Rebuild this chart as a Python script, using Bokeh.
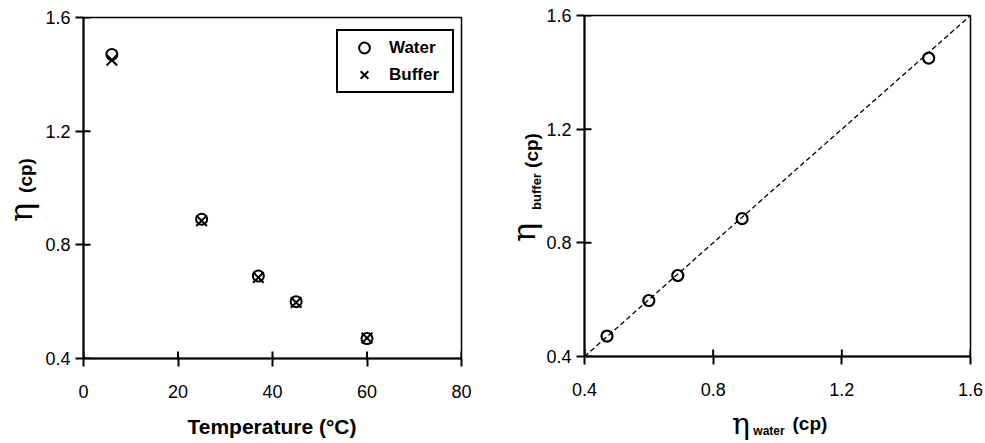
import math
from bokeh.plotting import figure
from bokeh.layouts import row, column
from bokeh.models import Legend, LegendItem, FixedTicker, Range1d
from bokeh.core.properties import value
from bokeh.embed import file_html
from bokeh.resources import INLINE

temperature = [6, 25, 37, 45, 60]
eta_water = [1.47, 0.89, 0.69, 0.60, 0.47]
eta_buffer = [1.45, 0.885, 0.685, 0.597, 0.472]

x_ticks_left = [0, 20, 40, 60, 80]
y_ticks = [0.4, 0.8, 1.2, 1.6]
x_ticks_right = [0.4, 0.8, 1.2, 1.6]
identity_line = [0.4, 1.6]

FONT = "Liberation Sans"
SERIF = "DejaVu Serif"


def style(p, xt, yt, xr, yr):
    p.outline_line_color = "black"
    p.outline_line_width = 1.5
    p.xgrid.visible = False
    p.ygrid.visible = False
    for ax in (p.xaxis[0], p.yaxis[0]):
        ax.axis_line_width = 2
        ax.axis_line_color = "black"
        ax.major_tick_line_width = 2
        ax.major_tick_out = 8
        ax.major_tick_in = 0
        ax.minor_tick_line_color = None
        ax.major_label_text_font = FONT
        ax.major_label_text_font_size = "18px"
        ax.major_label_text_color = "black"
    p.xaxis[0].ticker = FixedTicker(ticks=xt)
    p.yaxis[0].ticker = FixedTicker(ticks=yt)
    p.yaxis[0].major_label_standoff = 5
    p.xaxis[0].major_label_standoff = 18
    # inward halves of the crossing tick marks
    p.scatter(xt, [yr[0]] * len(xt), marker="dash", angle=math.pi / 2, size=14,
              line_color="black", line_width=2)
    p.scatter([xr[0]] * len(yt), yt, marker="dash", size=14,
              line_color="black", line_width=2)


def label_fig(w, h, xr=None):
    xr = xr if xr is not None else (0, w)
    f = figure(width=w, height=h, x_range=Range1d(*xr), y_range=Range1d(0, h),
               output_backend="svg", toolbar_location=None, min_border=0,
               x_axis_location=None, y_axis_location=None)
    f.xgrid.visible = False
    f.ygrid.visible = False
    f.outline_line_color = None
    return f


def txt(f, x, y, s, font, size, bold=False, angle=0.0):
    f.text(x=[x], y=[y], text=[s], angle=angle, text_font=value(font),
           text_font_size=size, text_font_style="bold" if bold else "normal",
           text_align="center", text_baseline="middle", text_color="black")


# ---------- left plot ----------
xr1, yr1 = (0, 80), (0.4, 1.6)
p1 = figure(width=448, height=405, output_backend="svg", toolbar_location=None,
            x_range=Range1d(*xr1), y_range=Range1d(*yr1),
            min_border_left=40, min_border_right=29, min_border_top=17, min_border_bottom=47)
style(p1, x_ticks_left, y_ticks, xr1, yr1)

rw = p1.scatter(temperature, eta_water, marker="circle", size=11, fill_color=None,
                line_color="black", line_width=2)
rb = p1.scatter(temperature, eta_buffer, marker="x", size=15,
                line_color="black", line_width=2)

legend = Legend(items=[LegendItem(label="Water", renderers=[rw]),
                       LegendItem(label="Buffer", renderers=[rb])],
                location=(253, 265), border_line_color="black", border_line_width=2,
                border_line_alpha=1, label_text_color="black",
                label_text_font=FONT, label_text_font_size="17px", label_text_font_style="bold",
                glyph_width=46, glyph_height=27, label_height=27, label_width=60, spacing=0,
                padding=3, margin=0, label_standoff=2, background_fill_alpha=1)
p1.add_layout(legend, "center")

# label strip below: its frame lines up with the plot frame (page x 82..461)
xl1 = label_fig(448, 38, xr=(82, 461))
txt(xl1, 271, 17, "Temperature (°C)", FONT, "21px", bold=True)

yl1 = label_fig(42, 443)
txt(yl1, 20, 231, "η", SERIF, "32px", angle=math.pi / 2)
txt(yl1, 25, 268, "(cp)", FONT, "19px", bold=True, angle=math.pi / 2)

left = row(yl1, column(p1, xl1))

# ---------- right plot ----------
xr2, yr2 = (0.4, 1.6), (0.4, 1.6)
p2 = figure(width=442, height=405, output_backend="svg", toolbar_location=None,
            x_range=Range1d(*xr2), y_range=Range1d(*yr2),
            min_border_left=40, min_border_right=15, min_border_top=15, min_border_bottom=49)
style(p2, x_ticks_right, y_ticks, xr2, yr2)
p2.line(identity_line, identity_line, line_color="black", line_width=1.3, line_dash="5 3")
p2.scatter(eta_water, eta_buffer, marker="circle", size=11, fill_color=None,
           line_color="black", line_width=2.2)

# label strip below: frame lines up with the plot frame (page x 583..970)
xl2 = label_fig(442, 38, xr=(583, 970))
txt(xl2, 740, 20, "η", SERIF, "30px")
txt(xl2, 768, 13, "water", FONT, "12px", bold=True)
txt(xl2, 809, 20, "(cp)", FONT, "19px", bold=True)

yl2 = label_fig(53, 443)
txt(yl2, 33, 211, "η", SERIF, "32px", angle=math.pi / 2)
txt(yl2, 46, 252, "buffer", FONT, "13px", bold=True, angle=math.pi / 2)
txt(yl2, 41, 293, "(cp)", FONT, "19px", bold=True, angle=math.pi / 2)

right = row(yl2, column(p2, xl2))

layout = row(left, right)
open("out.html", "w").write(file_html(layout, INLINE))
